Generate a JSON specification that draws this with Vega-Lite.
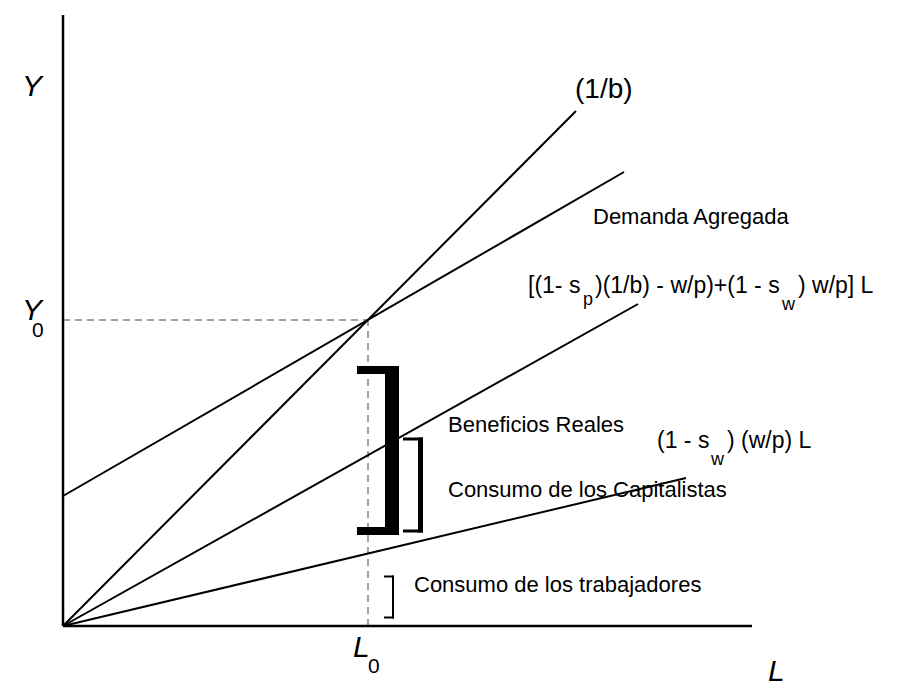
{
  "$schema": "https://vega.github.io/schema/vega-lite/v6.json",
  "width": 918,
  "height": 689,
  "padding": 0,
  "autosize": {"type": "none"},
  "background": "white",
  "config": {"view": {"stroke": null}},
  "datasets": {
    "ejes": [
      {"eje": "Y", "x": 0, "y": 0, "x2": 0, "y2": 611},
      {"eje": "L", "x": 0, "y": 0, "x2": 689, "y2": 0}
    ],
    "rectas": [
      {"recta": "(1/b)", "x": 0, "y": 0, "x2": 513, "y2": 515},
      {"recta": "Demanda Agregada", "x": 0, "y": 130, "x2": 561, "y2": 454},
      {"recta": "Consumo total", "x": 0, "y": 0, "x2": 575, "y2": 322},
      {"recta": "Consumo de los trabajadores", "x": 0, "y": 0, "x2": 623, "y2": 148}
    ],
    "equilibrio": [
      {"guia": "Y0", "x": 0, "y": 306, "x2": 305, "y2": 306},
      {"guia": "L0", "x": 305, "y": 0, "x2": 305, "y2": 306}
    ],
    "corcheteGrandeBrazos": [
      {"x": 294, "y": 256, "x2": 336, "y2": 256},
      {"x": 294, "y": 95, "x2": 336, "y2": 95}
    ],
    "corcheteGrandeBarra": [
      {"x": 329, "y": 91, "x2": 329, "y2": 260}
    ],
    "corcheteMedioBrazos": [
      {"x": 340, "y": 187, "x2": 360, "y2": 187},
      {"x": 340, "y": 95, "x2": 360, "y2": 95}
    ],
    "corcheteMedioBarra": [
      {"x": 357.5, "y": 93.5, "x2": 357.5, "y2": 188.5}
    ],
    "corchetePequeno": [
      {"x": 321, "y": 49.5, "x2": 331, "y2": 49.5},
      {"x": 321, "y": 8.5, "x2": 331, "y2": 8.5},
      {"x": 330, "y": 7.5, "x2": 330, "y2": 50.5}
    ],
    "variables": [
      {"texto": "Y", "x": -41, "y": 530},
      {"texto": "Y", "x": -41, "y": 306},
      {"texto": "L", "x": 290, "y": -31},
      {"texto": "L", "x": 705, "y": -55}
    ],
    "subindices0": [
      {"texto": "0", "x": -31, "y": 289},
      {"texto": "0", "x": 305, "y": -47}
    ],
    "titulo": [
      {"texto": "(1/b)", "x": 512, "y": 528}
    ],
    "rotulos": [
      {"texto": "Demanda Agregada", "x": 530, "y": 402},
      {"texto": "Beneficios Reales", "x": 385, "y": 194},
      {"texto": "Consumo de los Capitalistas", "x": 385, "y": 129},
      {"texto": "Consumo de los trabajadores", "x": 351, "y": 34}
    ],
    "formulas": [
      {"texto": "[(1- s", "x": 465, "y": 333},
      {"texto": ")(1/b) - w/p)+(1 - s", "x": 532, "y": 333},
      {"texto": ") w/p] L", "x": 735, "y": 333},
      {"texto": "(1 - s", "x": 594, "y": 178},
      {"texto": ") (w/p) L", "x": 664, "y": 178}
    ],
    "subindices": [
      {"texto": "p", "x": 520, "y": 321},
      {"texto": "w", "x": 719, "y": 316},
      {"texto": "w", "x": 648, "y": 161}
    ]
  },
  "encoding": {
    "x": {"type": "quantitative", "scale": {"domain": [-63, 855], "nice": false, "zero": false}, "axis": null},
    "y": {"type": "quantitative", "scale": {"domain": [-63, 626], "nice": false, "zero": false}, "axis": null}
  },
  "layer": [
    {
      "data": {"name": "equilibrio"},
      "mark": {"type": "rule", "color": "#444444", "strokeWidth": 1, "strokeDash": [7, 5]},
      "encoding": {"x": {"field": "x"}, "y": {"field": "y"}, "x2": {"field": "x2"}, "y2": {"field": "y2"}}
    },
    {
      "data": {"name": "rectas"},
      "mark": {"type": "rule", "color": "black", "strokeWidth": 2},
      "encoding": {"x": {"field": "x"}, "y": {"field": "y"}, "x2": {"field": "x2"}, "y2": {"field": "y2"}}
    },
    {
      "data": {"name": "ejes"},
      "mark": {"type": "rule", "color": "black", "strokeWidth": 2.5},
      "encoding": {"x": {"field": "x"}, "y": {"field": "y"}, "x2": {"field": "x2"}, "y2": {"field": "y2"}}
    },
    {
      "data": {"name": "corcheteGrandeBrazos"},
      "mark": {"type": "rule", "color": "black", "strokeWidth": 8, "strokeCap": "butt"},
      "encoding": {"x": {"field": "x"}, "y": {"field": "y"}, "x2": {"field": "x2"}, "y2": {"field": "y2"}}
    },
    {
      "data": {"name": "corcheteGrandeBarra"},
      "mark": {"type": "rule", "color": "black", "strokeWidth": 14, "strokeCap": "butt"},
      "encoding": {"x": {"field": "x"}, "y": {"field": "y"}, "x2": {"field": "x2"}, "y2": {"field": "y2"}}
    },
    {
      "data": {"name": "corcheteMedioBrazos"},
      "mark": {"type": "rule", "color": "black", "strokeWidth": 3, "strokeCap": "butt"},
      "encoding": {"x": {"field": "x"}, "y": {"field": "y"}, "x2": {"field": "x2"}, "y2": {"field": "y2"}}
    },
    {
      "data": {"name": "corcheteMedioBarra"},
      "mark": {"type": "rule", "color": "black", "strokeWidth": 5, "strokeCap": "butt"},
      "encoding": {"x": {"field": "x"}, "y": {"field": "y"}, "x2": {"field": "x2"}, "y2": {"field": "y2"}}
    },
    {
      "data": {"name": "corchetePequeno"},
      "mark": {"type": "rule", "color": "black", "strokeWidth": 2, "strokeCap": "butt"},
      "encoding": {"x": {"field": "x"}, "y": {"field": "y"}, "x2": {"field": "x2"}, "y2": {"field": "y2"}}
    },
    {
      "data": {"name": "variables"},
      "mark": {"type": "text", "font": "Liberation Sans", "fontStyle": "italic", "fontSize": 30, "align": "left", "baseline": "alphabetic", "color": "black"},
      "encoding": {"x": {"field": "x"}, "y": {"field": "y"}, "text": {"field": "texto"}}
    },
    {
      "data": {"name": "subindices0"},
      "mark": {"type": "text", "font": "Liberation Sans", "fontSize": 21, "align": "left", "baseline": "alphabetic", "color": "black"},
      "encoding": {"x": {"field": "x"}, "y": {"field": "y"}, "text": {"field": "texto"}}
    },
    {
      "data": {"name": "titulo"},
      "mark": {"type": "text", "font": "Liberation Sans", "fontSize": 28, "align": "left", "baseline": "alphabetic", "color": "black"},
      "encoding": {"x": {"field": "x"}, "y": {"field": "y"}, "text": {"field": "texto"}}
    },
    {
      "data": {"name": "rotulos"},
      "mark": {"type": "text", "font": "Liberation Sans", "fontSize": 22, "align": "left", "baseline": "alphabetic", "color": "black"},
      "encoding": {"x": {"field": "x"}, "y": {"field": "y"}, "text": {"field": "texto"}}
    },
    {
      "data": {"name": "formulas"},
      "mark": {"type": "text", "font": "Liberation Sans", "fontSize": 23, "align": "left", "baseline": "alphabetic", "color": "black"},
      "encoding": {"x": {"field": "x"}, "y": {"field": "y"}, "text": {"field": "texto"}}
    },
    {
      "data": {"name": "subindices"},
      "mark": {"type": "text", "font": "Liberation Sans", "fontSize": 18, "align": "left", "baseline": "alphabetic", "color": "black"},
      "encoding": {"x": {"field": "x"}, "y": {"field": "y"}, "text": {"field": "texto"}}
    }
  ]
}
